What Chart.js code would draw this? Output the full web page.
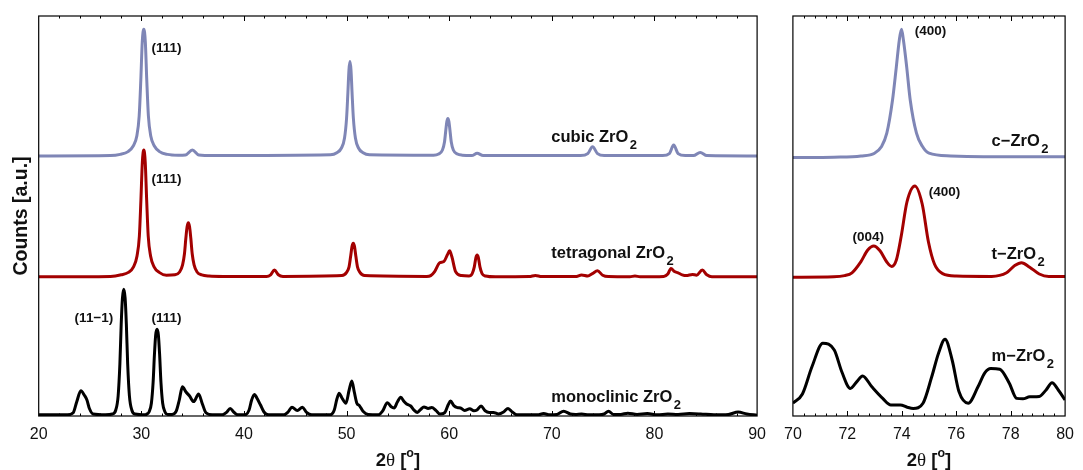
<!DOCTYPE html>
<html><head><meta charset="utf-8">
<script src="https://cdn.jsdelivr.net/npm/chart.js@4.4.1/dist/chart.umd.min.js"></script>
<style>
html,body{margin:0;padding:0;background:#fff;overflow:hidden}
#wrap{position:relative;width:1083px;height:470px;background:#fff}
#c1{position:absolute;left:0;top:0}
#c2{position:absolute;left:775px;top:0}
</style></head><body>
<div id="wrap"><canvas id="c1" width="775" height="470"></canvas><canvas id="c2" width="308" height="470"></canvas></div>
<script>
// ---------- DATA ----------
// Wide scan, 2θ = 20..90
const wideTicks = [20, 30, 40, 50, 60, 70, 80, 90];
const cubicWideX = [20,27.0,27.94,28.71,29.21,29.56,29.79,29.95,30.09,30.24,30.39,30.53,30.69,30.92,31.27,31.77,32.54,33.6,34.3,34.97,35.6,37,48.43,49.05,49.5,49.8,50.0,50.13,50.23,50.33,50.43,50.53,50.66,50.86,51.16,51.61,52.23,58.47,58.97,59.34,59.54,59.67,59.77,59.87,59.97,60.07,60.2,60.4,60.8,61.27,62.2,62.72,63.3,72.8,73.5,73.97,74.45,75.1,80.8,81.45,81.87,82.3,83.0,83.8,84.46,85.1,90];
const cubicWideY = [65.0,65.1,65.4,66.1,67.5,70,75,84,93.5,96.7,93.5,84,75,70,67.5,66.1,65.4,65.2,65.25,66.5,65.25,65.1,65.3,65.8,67,69.5,74.5,81,86.5,88.6,86.5,81,74.5,69.5,67,65.8,65.3,65.2,65.5,66.5,68.5,71.5,73.6,74.4,73.6,71.5,68.5,66.5,65.5,65.2,65.1,65.7,65.1,65.1,65.6,67.3,65.6,65.1,65.1,65.6,67.75,65.6,65.1,65.1,65.9,65.1,65.0];

const tetraWideX = [20,27.0,28.04,28.74,29.24,29.58,29.81,29.96,30.1,30.24,30.38,30.52,30.67,30.9,31.24,31.74,32.44,33.28,33.73,34.02,34.2,34.34,34.46,34.58,34.7,34.82,34.96,35.14,35.43,35.88,36.6,38,42.2,42.6,42.97,43.35,43.8,49.55,50.0,50.24,50.4,50.53,50.65,50.77,50.9,51.06,51.3,51.75,57.8,58.2,58.58,59.07,59.48,59.82,60.04,60.26,60.62,61.2,61.92,62.24,62.44,62.6,62.72,62.84,63.0,63.2,63.52,64.5,67.8,68.4,69.0,72.3,72.9,73.5,73.95,74.45,74.95,75.5,77.6,78.1,78.6,80.9,81.3,81.61,81.95,82.3,82.7,83.1,83.7,84.1,84.66,85.1,85.6,90];
const tetraWideY = [34.8,34.9,35.3,35.9,37.3,40,45,54,63.5,66.5,63.5,54,45,40,37.3,35.9,35.2,35.3,36.0,37.8,40.5,44.5,47.3,48.3,47.3,44.5,40.5,37.8,36.0,35.3,35.0,34.9,34.9,35.3,36.5,35.3,34.9,35.1,35.9,37.3,40.0,42.4,43.2,42.4,40.0,37.3,35.9,35.1,34.9,35.1,36.1,38.3,38.6,40.3,41.3,39.8,36.1,35.1,35.0,35.6,37.2,39.6,40.25,39.6,37.2,35.6,35.0,34.8,34.85,35.15,34.85,34.85,35.25,35.0,35.6,36.3,35.2,34.85,34.8,35.0,34.8,34.9,35.5,36.9,36.1,35.8,35.3,35.1,35.4,35.2,36.5,35.3,34.8,34.8];

const monoWideX = [20,22.8,23.36,23.7,24.11,24.45,24.7,24.95,25.3,26.5,27.19,27.51,27.74,27.91,28.04,28.16,28.29,28.42,28.54,28.67,28.84,29.07,29.39,30.4,30.48,30.75,30.98,31.15,31.28,31.4,31.53,31.66,31.78,31.91,32.08,32.31,32.58,33.0,33.4,33.7,34.0,34.35,34.7,35.1,35.58,35.95,36.3,36.9,37.9,38.3,38.66,39.0,39.4,40.1,40.5,40.75,41.02,41.3,41.6,41.95,42.4,43.9,44.3,44.68,45.2,45.7,46.1,46.6,48.4,48.8,49.05,49.28,49.55,49.93,50.25,50.51,50.75,51.0,51.25,51.6,52.1,53.1,53.5,53.98,54.35,54.63,54.95,55.28,55.6,55.85,56.25,56.6,56.9,57.2,57.54,57.95,58.3,58.7,59.1,59.55,59.9,60.13,60.45,60.8,61.1,61.5,62.0,62.4,62.7,63.1,63.5,63.9,64.3,64.8,65.3,65.73,66.15,66.6,68.6,69.2,69.8,70.5,71.15,71.8,72.3,72.9,73.6,74.6,75.1,75.52,76.0,76.7,77.4,78.3,79.3,80.3,81.3,82.3,83.4,84.5,85.8,87.2,88.15,89.0,90];
const monoWideY = [0.3,0.3,0.8,3.5,6.3,5.2,4.0,1.8,0.5,0.3,0.5,1.5,5,13,23,29.5,31.7,29.5,23,13,5,1.5,0.5,0.3,0.4,1.0,3.2,8.5,15.5,20.3,21.7,20.3,15.5,8.5,3.2,1.0,0.4,0.4,1.2,4.0,7.3,6.0,5.0,3.6,5.5,3.0,0.8,0.3,0.3,0.9,1.9,1.0,0.3,0.3,1.5,4.0,5.4,4.3,2.8,1.0,0.3,0.3,1.0,2.2,1.4,2.2,0.9,0.3,0.3,1.5,4.2,5.7,4.5,3.2,6.5,8.75,6.0,3.2,2.6,1.2,0.4,0.3,1.2,3.3,2.3,2.0,3.5,4.7,3.6,3.0,2.5,1.4,0.9,1.6,2.25,1.9,2.1,1.4,0.5,0.8,2.8,3.75,2.6,2.1,2.0,1.4,1.8,1.3,1.5,2.5,1.3,0.9,0.9,0.5,1.0,1.9,1.0,0.3,0.3,0.6,0.3,0.4,1.2,0.5,0.4,0.5,0.3,0.3,0.5,1.2,0.4,0.4,0.7,0.4,0.6,0.3,0.5,0.4,0.6,0.5,0.3,0.4,1.0,0.5,0.2];

// Zoomed scan, 2θ = 70..80
const zoomTicks = [70, 72, 74, 76, 78, 80];
const cubicZoomX = [70,71.5,72.5,73.0,73.25,73.45,73.66,73.8,73.91,73.99,74.06,74.18,74.31,74.54,74.75,75.0,75.8,77,80];
const cubicZoomY = [64.6,64.7,65.0,65.7,67.3,70.7,79,87.3,94.0,96.7,94.0,87.3,79.0,70.7,67.5,65.7,65.0,64.8,64.8];
const tetraZoomX = [70,71.5,71.9,72.17,72.5,72.75,72.97,73.2,73.45,73.63,73.8,73.98,74.19,74.48,74.75,74.98,75.2,75.5,76.0,77.3,77.85,78.15,78.4,78.7,79.05,79.4,80];
const tetraZoomY = [34.7,34.8,35.1,35.8,38.6,41.5,42.5,41.3,38.5,37.4,39.0,45.0,53.5,57.5,53.0,43.5,38.0,35.6,35.0,34.9,35.8,37.6,38.3,37.2,35.5,34.9,34.9];
const monoZoomX = [70,70.35,70.7,71.1,71.52,71.8,72.11,72.35,72.56,72.9,73.3,73.6,73.95,74.2,74.42,74.78,75.1,75.35,75.59,75.85,76.1,76.44,76.8,77.05,77.27,77.6,77.95,78.22,78.45,78.7,79.05,79.3,79.52,79.75,80];
const monoZoomY = [3.2,5.5,12.3,18.2,16.5,11.0,6.9,8.6,10.0,7.3,4.4,2.75,2.75,2.2,1.9,3.2,9.8,15.7,19.2,14.0,6.1,3.2,7.3,10.8,11.9,11.7,8.2,4.4,4.3,4.8,4.9,6.5,8.3,6.5,4.0];

// Text labels
const wideReflections = [
  {text:'(111)', x:31.0, y:92},
  {text:'(111)', x:31.0, y:59.25},
  {text:'(11\u22121)', x:23.5, y:24.5},
  {text:'(111)', x:31.0, y:24.5}
];
const wideNames = [
  {text:'cubic ZrO', sub:'2', x:69.95, y:68.6},
  {text:'tetragonal ZrO', sub:'2', x:69.95, y:39.4},
  {text:'monoclinic ZrO', sub:'2', x:69.95, y:3.6}
];
const zoomReflections = [
  {text:'(400)', x:74.48, y:96.25},
  {text:'(400)', x:74.99, y:55.9},
  {text:'(004)', x:72.19, y:44.7}
];
const zoomNames = [
  {text:'c\u2212ZrO', sub:'2', x:77.3, y:67.6},
  {text:'t\u2212ZrO', sub:'2', x:77.3, y:39.25},
  {text:'m\u2212ZrO', sub:'2', x:77.3, y:13.75}
];

// ---------- DRAWING ----------
const COL_C = '#7f86b6', COL_T = '#a30000', COL_M = '#000000';
const SANS = '"Liberation Sans", Arial, Helvetica, sans-serif';
const pts = (xs, ys) => xs.map((x, i) => ({x, y: ys[i]}));
const ds = (xs, ys, c) => ({data: pts(xs, ys), borderColor: c, borderWidth: 3, pointRadius: 0, fill: false, cubicInterpolationMode: 'monotone'});

function decor(id, step, majorEvery, reflections, names, yTitle) {
  return {
    id,
    afterDatasetsDraw(chart) {
      const ctx = chart.ctx, a = chart.chartArea, xs = chart.scales.x, ys = chart.scales.y;
      ctx.save();
      ctx.strokeStyle = '#000'; ctx.lineWidth = 1.2;
      ctx.strokeRect(a.left, a.top, a.right - a.left, a.bottom - a.top);
      const n = Math.round((xs.max - xs.min) / step);
      ctx.lineWidth = 1;
      for (let i = 1; i < n; i++) {
        const v = xs.min + i * step;
        const r = v / majorEvery;
        const major = Math.abs(r - Math.round(r)) < 1e-6;
        const len = major ? 5 : 2.5;
        const px = Math.round(xs.getPixelForValue(v)) + 0.5;
        ctx.beginPath();
        ctx.moveTo(px, a.top); ctx.lineTo(px, a.top + len);
        ctx.moveTo(px, a.bottom); ctx.lineTo(px, a.bottom - len);
        ctx.stroke();
      }
      ctx.fillStyle = '#111';
      ctx.font = 'bold 13.5px ' + SANS;
      ctx.textAlign = 'left'; ctx.textBaseline = 'middle';
      reflections.forEach(r => ctx.fillText(r.text, xs.getPixelForValue(r.x), ys.getPixelForValue(r.y)));
      ctx.textBaseline = 'alphabetic';
      names.forEach(nm => {
        const px = xs.getPixelForValue(nm.x), py = ys.getPixelForValue(nm.y);
        ctx.font = 'bold 16.5px ' + SANS;
        ctx.fillText(nm.text, px, py);
        const w = ctx.measureText(nm.text).width;
        ctx.font = 'bold 13px ' + SANS;
        ctx.fillText(nm.sub, px + w + 1.5, py + 7);
      });
      const parts = [
        {t:'2', f:'bold 18.5px ' + SANS, dy:0},
        {t:'\u03b8', f:'19px "Liberation Serif", "DejaVu Serif", serif', dy:0},
        {t:' [', f:'bold 18.5px ' + SANS, dy:0},
        {t:'o', f:'bold 12.5px ' + SANS, dy:-9},
        {t:']', f:'bold 18.5px ' + SANS, dy:0}
      ];
      let tot = 0;
      parts.forEach(p => { ctx.font = p.f; p.w = ctx.measureText(p.t).width; tot += p.w; });
      let x0 = (a.left + a.right) / 2 - tot / 2;
      parts.forEach(p => { ctx.font = p.f; ctx.fillText(p.t, x0, 466 + p.dy); x0 += p.w; });
      if (yTitle) {
        ctx.translate(21.5, (a.top + a.bottom) / 2);
        ctx.rotate(-Math.PI / 2);
        ctx.textAlign = 'center'; ctx.textBaseline = 'middle';
        ctx.font = 'bold 19.5px ' + SANS;
        ctx.fillText(yTitle, 0, 0);
      }
      ctx.restore();
    }
  };
}

function makeChart(el, xmin, xmax, tickVals, datasets, pad, plugin) {
  return new Chart(document.getElementById(el), {
    type: 'line',
    data: {datasets},
    options: {
      responsive: false, animation: false, devicePixelRatio: 1,
      layout: {padding: pad},
      plugins: {legend: {display: false}, tooltip: {enabled: false}},
      scales: {
        x: {
          type: 'linear', min: xmin, max: xmax,
          grid: {display: false, drawTicks: false}, border: {display: false},
          afterBuildTicks: s => { s.ticks = tickVals.map(v => ({value: v})); },
          afterFit: s => { s.height = 54; },
          ticks: {padding: 9, color: '#111', autoSkip: false, maxRotation: 0,
                  font: {family: SANS, size: 16}}
        },
        y: {type: 'linear', display: false, min: 0, max: 100}
      }
    },
    plugins: [plugin]
  });
}

makeChart('c1', 20, 90, wideTicks, [
  ds(cubicWideX, cubicWideY, COL_C),
  ds(tetraWideX, tetraWideY, COL_T),
  ds(monoWideX, monoWideY, COL_M)
], {left: 38.7, right: 17, top: 16, bottom: 0},
  decor('decorWide', 2, 10, wideReflections, wideNames, 'Counts [a.u.]'));

makeChart('c2', 70, 80, zoomTicks, [
  ds(cubicZoomX, cubicZoomY, COL_C),
  ds(tetraZoomX, tetraZoomY, COL_T),
  ds(monoZoomX, monoZoomY, COL_M)
], {left: 17.3, right: 10, top: 16, bottom: 0},
  decor('decorZoom', 0.4, 2, zoomReflections, zoomNames, null));
</script>
</body></html>
